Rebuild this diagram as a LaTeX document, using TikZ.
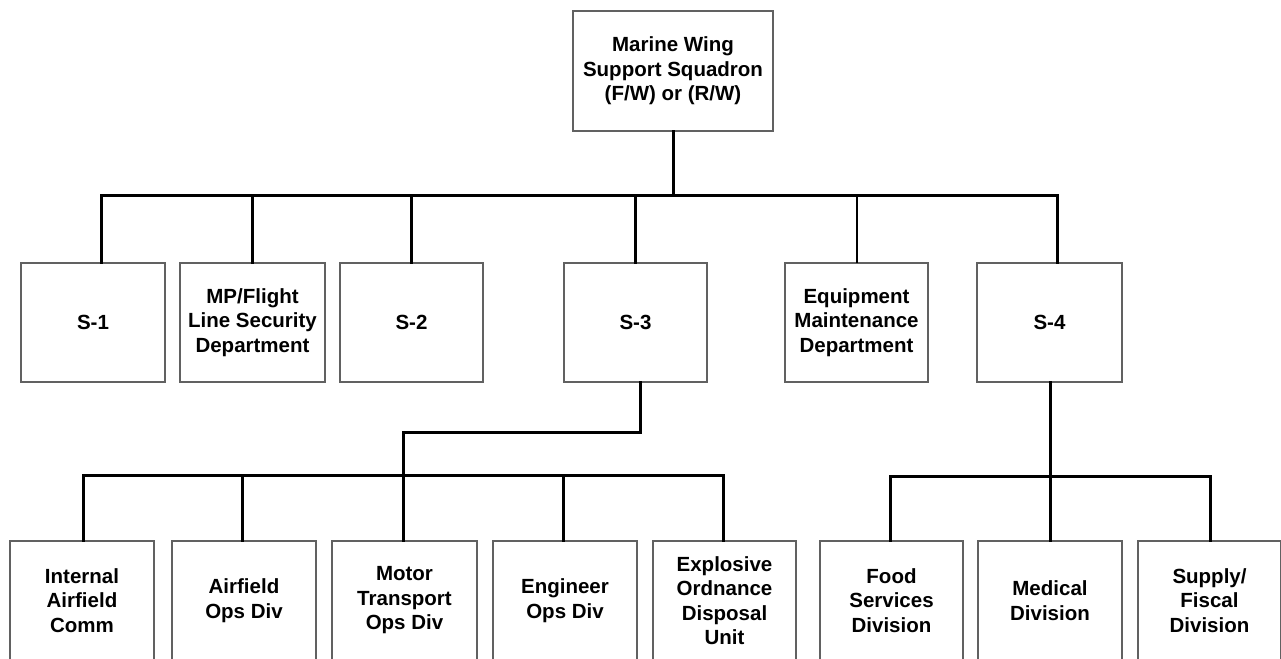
\documentclass[tikz,border=0pt]{standalone}
\usepackage{fontspec}
\setmainfont{Liberation Sans}
\begin{document}
\begin{tikzpicture}[x=1pt,y=-1pt,
  box/.style={draw=black!62,line width=1.2pt,fill=white,rectangle,inner sep=0pt,
    minimum height=119pt,align=center,
    font=\bfseries\fontsize{20.5}{24.5}\selectfont},
  conn/.style={draw=black,line width=3pt,line cap=rect},
  thin conn/.style={draw=black,line width=2pt,line cap=rect}]
\useasboundingbox (0,0) rectangle (1281,658);
\clip (0,0) rectangle (1281,658);
\fill[white] (0,0) rectangle (1281,658);

% top
\node[box,minimum width=200pt,minimum height=120pt] (top) at (673,71)
  {Marine Wing\\Support Squadron\\(F/W) or (R/W)};

% middle row
\node[box,minimum width=144pt] (s1) at (93,322.5) {S-1};
\node[box,minimum width=145pt] (mp) at (252.5,322.5) {MP/Flight\\Line Security\\Department};
\node[box,minimum width=143pt] (s2) at (411.5,322.5) {S-2};
\node[box,minimum width=143pt] (s3) at (635.5,322.5) {S-3};
\node[box,minimum width=143pt] (eq) at (856.5,322.5) {Equipment\\Maintenance\\Department};
\node[box,minimum width=145pt] (s4) at (1049.5,322.5) {S-4};

% bottom row
\node[box,minimum width=144pt] (iac) at (82,600.5) {Internal\\Airfield\\Comm};
\node[box,minimum width=144pt] (aod) at (244,600.5) {Airfield\\Ops Div};
\node[box,minimum width=145pt] (mto) at (404.5,600.5) {Motor\\Transport\\Ops Div};
\node[box,minimum width=144pt] (eng) at (565,600.5) {Engineer\\Ops Div};
\node[box,minimum width=143pt] (eod) at (724.5,600.5) {Explosive\\Ordnance\\Disposal\\Unit};
\node[box,minimum width=143pt] (fsd) at (891.5,600.5) {Food\\Services\\Division};
\node[box,minimum width=144pt] (med) at (1050,600.5) {Medical\\Division};
\node[box,minimum width=143pt] (sfd) at (1209.5,600.5) {Supply/\\Fiscal\\Division};

% bus coordinates
\coordinate (busA) at (0,195);
\coordinate (busB) at (0,475);
\coordinate (busC) at (0,476);
\coordinate (jog) at (0,432);

\coordinate (s1t) at ([xshift=8pt]s1.north);
\coordinate (s4t) at ([xshift=7.5pt]s4.north);
\coordinate (s3b) at ([xshift=4.5pt]s3.south);
\coordinate (mtot) at ([xshift=-1.5pt]mto.north);
\coordinate (iact) at ([xshift=1pt]iac.north);
\coordinate (aodt) at ([xshift=-2pt]aod.north);
\coordinate (engt) at ([xshift=-2pt]eng.north);
\coordinate (eodt) at ([xshift=-1.5pt]eod.north);
\coordinate (fsdt) at ([xshift=-1.5pt]fsd.north);
\coordinate (sfdt) at ([xshift=0.5pt]sfd.north);

% top level connectors
\draw[conn] (top.south) -- (top.south |- busA);
\draw[conn] (s1t) -- (s1t |- busA) -- (s4t |- busA) -- (s4t);
\draw[conn] (mp.north |- busA) -- (mp.north);
\draw[conn] (s2.north |- busA) -- (s2.north);
\draw[conn] (s3.north |- busA) -- (s3.north);
\draw[thin conn] (eq.north |- busA) -- (eq.north);

% S-3 branch
\draw[conn] (s3b) -- (s3b |- jog) -- (mtot |- jog) -- (mtot);
\draw[conn] (iact) -- (iact |- busB) -- (eodt |- busB) -- (eodt);
\draw[conn] (aodt |- busB) -- (aodt);
\draw[conn] (engt |- busB) -- (engt);

% S-4 branch
\draw[conn] (med.north |- s4.south) -- (med.north);
\draw[conn] (fsdt) -- (fsdt |- busC) -- (sfdt |- busC) -- (sfdt);
\end{tikzpicture}
\end{document}
